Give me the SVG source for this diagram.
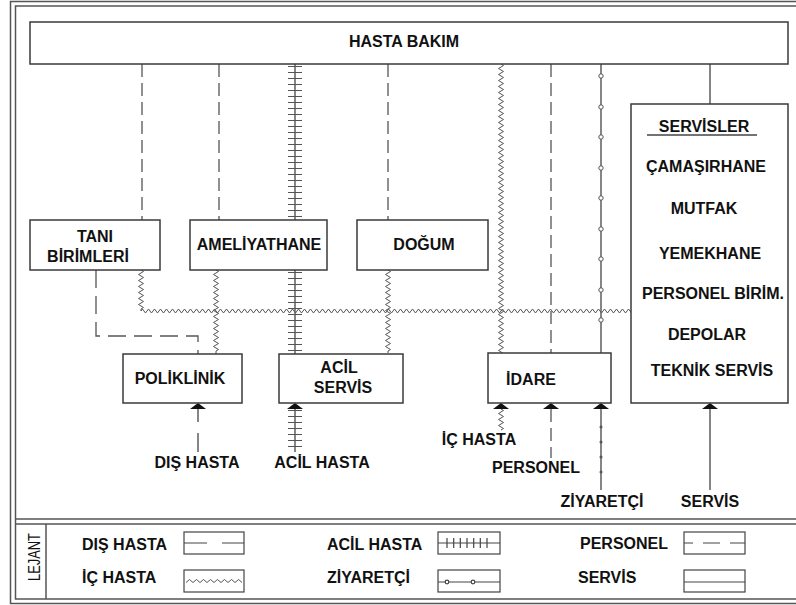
<svg xmlns="http://www.w3.org/2000/svg" width="796" height="605" viewBox="0 0 796 605">
<style>
text{font-family:"Liberation Sans",Arial,sans-serif;font-weight:bold;font-size:16px;fill:#111}
.box{fill:#fff;stroke:#3a3a3a;stroke-width:1.5}
.frame{fill:none;stroke:#555;stroke-width:1.5}
.solid{fill:none;stroke:#444;stroke-width:1.3}
.pers{fill:none;stroke:#555;stroke-width:1.3;stroke-dasharray:13 6}
.dis{fill:none;stroke:#555;stroke-width:1.3;stroke-dasharray:18 8}
.zig{fill:none;stroke:#555;stroke-width:1}
.tick{fill:none;stroke:#555;stroke-width:14;stroke-dasharray:1 5}
.dot{fill:#fff;stroke:#555;stroke-width:1}
.arrow{fill:#111}
</style>
<rect x="0" y="0" width="796" height="605" fill="#fff"/>
<g id="frame">
<rect x="10.5" y="1.5" width="795" height="602" class="frame"/>
<rect x="15.5" y="6" width="785" height="593" class="frame"/>
<line x1="15.5" y1="519" x2="800" y2="519" class="frame"/>
<line x1="15.5" y1="524" x2="800" y2="524" class="frame"/>
<line x1="46" y1="524" x2="46" y2="599" class="frame"/>
</g>
<g id="connectors">
<line x1="142" y1="64" x2="142" y2="220" class="pers"/>
<line x1="219" y1="64" x2="219" y2="220" class="pers"/>
<line x1="388" y1="64" x2="388" y2="220" class="pers"/>
<line x1="551" y1="64" x2="551" y2="353" class="pers"/>
<line x1="295" y1="64" x2="295" y2="220" class="solid"/>
<line x1="295" y1="66" x2="295" y2="220" class="tick"/>
<line x1="295" y1="270" x2="295" y2="354" class="solid"/>
<line x1="295" y1="272" x2="295" y2="354" class="tick"/>
<line x1="601" y1="64" x2="601" y2="353" class="solid"/>
<g class="dot">
<circle cx="601" cy="76" r="2.2"/><circle cx="601" cy="107" r="2.2"/><circle cx="601" cy="137" r="2.2"/>
<circle cx="601" cy="168" r="2.2"/><circle cx="601" cy="198" r="2.2"/><circle cx="601" cy="229" r="2.2"/>
<circle cx="601" cy="259" r="2.2"/><circle cx="601" cy="290" r="2.2"/><circle cx="601" cy="320" r="2.2"/>
</g>
<line x1="710" y1="64" x2="710" y2="104" class="solid"/>
<path class="zig" d="M501,64 l2.5,1.5 -5,3 5,3 -5,3 5,3 -5,3 5,3 -5,3 5,3 -5,3 5,3 -5,3 5,3 -5,3 5,3 -5,3 5,3 -5,3 5,3 -5,3 5,3 -5,3 5,3 -5,3 5,3 -5,3 5,3 -5,3 5,3 -5,3 5,3 -5,3 5,3 -5,3 5,3 -5,3 5,3 -5,3 5,3 -5,3 5,3 -5,3 5,3 -5,3 5,3 -5,3 5,3 -5,3 5,3 -5,3 5,3 -5,3 5,3 -5,3 5,3 -5,3 5,3 -5,3 5,3 -5,3 5,3 -5,3 5,3 -5,3 5,3 -5,3 5,3 -5,3 5,3 -5,3 5,3 -5,3 5,3 -5,3 5,3 -5,3 5,3 -5,3 5,3 -5,3 5,3 -5,3 5,3 -5,3 5,3 -5,3 5,3 -5,3 5,3 -5,3 5,3 -5,3 5,3 -5,3 5,3 -5,3 5,3 -2.5,1.5 0,4"/>
<path class="zig" d="M141,270 l2.5,1.5 -5,3 5,3 -5,3 5,3 -5,3 5,3 -5,3 5,3 -5,3 5,3 -5,3 5,3 -2.5,1.5 0,2"/>
<path class="zig" d="M141,311 l1.5,-2 3,4 3,-4 3,4 3,-4 3,4 3,-4 3,4 3,-4 3,4 3,-4 3,4 3,-4 3,4 3,-4 3,4 3,-4 3,4 3,-4 3,4 3,-4 3,4 3,-4 3,4 3,-4 3,4 3,-4 3,4 3,-4 3,4 3,-4 3,4 3,-4 3,4 3,-4 3,4 3,-4 3,4 3,-4 3,4 3,-4 3,4 3,-4 3,4 3,-4 3,4 3,-4 3,4 3,-4 3,4 3,-4 3,4 3,-4 3,4 3,-4 3,4 3,-4 3,4 3,-4 3,4 3,-4 3,4 3,-4 3,4 3,-4 3,4 3,-4 3,4 3,-4 3,4 3,-4 3,4 3,-4 3,4 3,-4 3,4 3,-4 3,4 3,-4 3,4 3,-4 3,4 3,-4 3,4 3,-4 3,4 3,-4 3,4 3,-4 3,4 3,-4 3,4 3,-4 3,4 3,-4 3,4 3,-4 3,4 3,-4 3,4 3,-4 3,4 3,-4 3,4 3,-4 3,4 3,-4 3,4 3,-4 3,4 3,-4 3,4 3,-4 3,4 3,-4 3,4 3,-4 3,4 3,-4 3,4 3,-4 3,4 3,-4 3,4 3,-4 3,4 3,-4 3,4 3,-4 3,4 3,-4 3,4 3,-4 3,4 3,-4 3,4 3,-4 3,4 3,-4 3,4 3,-4 3,4 3,-4 3,4 3,-4 3,4 3,-4 3,4 3,-4 3,4 3,-4 3,4 3,-4 3,4 3,-4 3,4 3,-4 3,4 3,-4 3,4 3,-4 3,4 3,-4 3,4 3,-4 3,4 3,-4 3,4 3,-4 3,4 3,-4 1.5,2 1,0"/>
<path class="zig" d="M216,270 l2.5,1.5 -5,3 5,3 -5,3 5,3 -5,3 5,3 -5,3 5,3 -5,3 5,3 -5,3 5,3 -5,3 5,3 -5,3 5,3 -5,3 5,3 -5,3 5,3 -5,3 5,3 -5,3 5,3 -5,3 5,3 -2.5,1.5 0,3"/>
<path class="zig" d="M388,270 l2.5,1.5 -5,3 5,3 -5,3 5,3 -5,3 5,3 -5,3 5,3 -5,3 5,3 -5,3 5,3 -5,3 5,3 -5,3 5,3 -5,3 5,3 -5,3 5,3 -5,3 5,3 -5,3 5,3 -5,3 5,3 -2.5,1.5 0,2"/>
<path class="dis" d="M96,270 V336 H198 V354"/>
<line x1="198" y1="409" x2="198" y2="422" class="solid"/>
<line x1="198" y1="433" x2="198" y2="452" class="solid"/>
<line x1="295" y1="409" x2="295" y2="452" class="solid"/>
<line x1="295" y1="410" x2="295" y2="452" class="tick"/>
<path class="zig" d="M501,409 l2.5,1.5 -5,3 5,3 -5,3 5,3 -5,3 5,3 -2.5,1.5"/>
<line x1="551" y1="409" x2="551" y2="458" class="pers"/>
<line x1="601" y1="409" x2="601" y2="490" class="solid"/>
<g fill="#555"><circle cx="601" cy="427" r="1.5"/><circle cx="601" cy="442" r="1.5"/><circle cx="601" cy="457" r="1.5"/><circle cx="601" cy="472" r="1.5"/></g>
<line x1="710" y1="409" x2="710" y2="490" class="solid"/>
<g class="arrow">
<path d="M198,403 l8,6 h-16 z"/>
<path d="M295,403 l8,6 h-16 z"/>
<path d="M501,403 l8,6 h-16 z"/>
<path d="M551,403 l8,6 h-16 z"/>
<path d="M601,403 l8,6 h-16 z"/>
<path d="M710,403 l8,6 h-16 z"/>
</g>
</g>
<g id="hasta-bakim"><rect x="30" y="22" width="758" height="42" class="box"/><text x="404" y="47" text-anchor="middle">HASTA BAKIM</text></g>
<g id="tani-birimleri"><rect x="30" y="220" width="130" height="50" class="box"/><text x="95" y="242" text-anchor="middle">TANI</text><text x="88" y="262" text-anchor="middle">BİRİMLERİ</text></g>
<g id="ameliyathane"><rect x="190" y="220" width="137" height="50" class="box"/><text x="259" y="250" text-anchor="middle">AMELİYATHANE</text></g>
<g id="dogum"><rect x="357" y="220" width="131" height="50" class="box"/><text x="424" y="250" text-anchor="middle">DOĞUM</text></g>
<g id="poliklinik"><rect x="123" y="354" width="119" height="49" class="box"/><text x="180" y="384" text-anchor="middle">POLİKLİNİK</text></g>
<g id="acil-servis"><rect x="279" y="354" width="124" height="49" class="box"/><text x="339" y="373" text-anchor="middle">ACİL</text><text x="343" y="393" text-anchor="middle">SERVİS</text></g>
<g id="idare"><rect x="488" y="353" width="123" height="50" class="box"/><text x="531" y="385" text-anchor="middle">İDARE</text></g>
<g id="servisler"><rect x="631" y="104" width="157" height="299" class="box"/>
<text x="704" y="132" text-anchor="middle">SERVİSLER</text>
<line x1="647" y1="135" x2="757" y2="135" stroke="#444" stroke-width="1.3"/>
<text x="706" y="172" text-anchor="middle">ÇAMAŞIRHANE</text>
<text x="704" y="214" text-anchor="middle">MUTFAK</text>
<text x="710" y="259" text-anchor="middle">YEMEKHANE</text>
<text x="713" y="299" text-anchor="middle">PERSONEL BİRİM.</text>
<text x="707" y="340" text-anchor="middle">DEPOLAR</text>
<text x="712" y="376" text-anchor="middle">TEKNİK SERVİS</text>
</g>
<g id="input-labels">
<text x="197" y="468" text-anchor="middle">DIŞ HASTA</text>
<text x="322" y="468" text-anchor="middle">ACİL HASTA</text>
<text x="479" y="445" text-anchor="middle">İÇ HASTA</text>
<text x="536" y="473" text-anchor="middle">PERSONEL</text>
<text x="602" y="507" text-anchor="middle">ZİYARETÇİ</text>
<text x="710" y="507" text-anchor="middle">SERVİS</text>
</g>
<g id="legend">
<text transform="translate(40,557) rotate(-90)" text-anchor="middle" style="font-weight:normal;font-size:16px" textLength="48" lengthAdjust="spacingAndGlyphs">LEJANT</text>
<text x="82" y="550">DIŞ HASTA</text>
<text x="82" y="583">İÇ HASTA</text>
<text x="327" y="550">ACİL HASTA</text>
<text x="327" y="583">ZİYARETÇİ</text>
<text x="580" y="549">PERSONEL</text>
<text x="578" y="583">SERVİS</text>
<g fill="none" stroke="#444" stroke-width="1.2">
<rect x="184" y="532" width="60" height="22"/>
<path d="M184,543 H207 M222,543 H244"/>
<rect x="184" y="570" width="60" height="22"/>
<path stroke-width="0.9" d="M186,582.5 l3.5,-3 3.5,3 3.5,-3 3.5,3 3.5,-3 3.5,3 3.5,-3 3.5,3 3.5,-3 3.5,3 3.5,-3 3.5,3 3.5,-3 3.5,3 3.5,-3 3.5,3"/>
<rect x="438" y="532" width="62" height="22"/>
<path d="M438,543 H500 M447,538 v10 M453.7,538 v10 M460.3,538 v10 M467,538 v10 M473.7,538 v10 M480.3,538 v10 M487,538 v10"/>
<rect x="438" y="570" width="62" height="22"/>
<path d="M438,582 H500"/>
<circle cx="447" cy="582" r="1.8" fill="#fff"/><circle cx="473" cy="582" r="1.8" fill="#fff"/>
<rect x="684" y="532" width="61" height="22"/>
<path d="M684,543 H693 M703,543 H720 M730,543 H745"/>
<rect x="684" y="570" width="61" height="22"/>
<path d="M684,582 H745"/>
</g>
</g>
</svg>
